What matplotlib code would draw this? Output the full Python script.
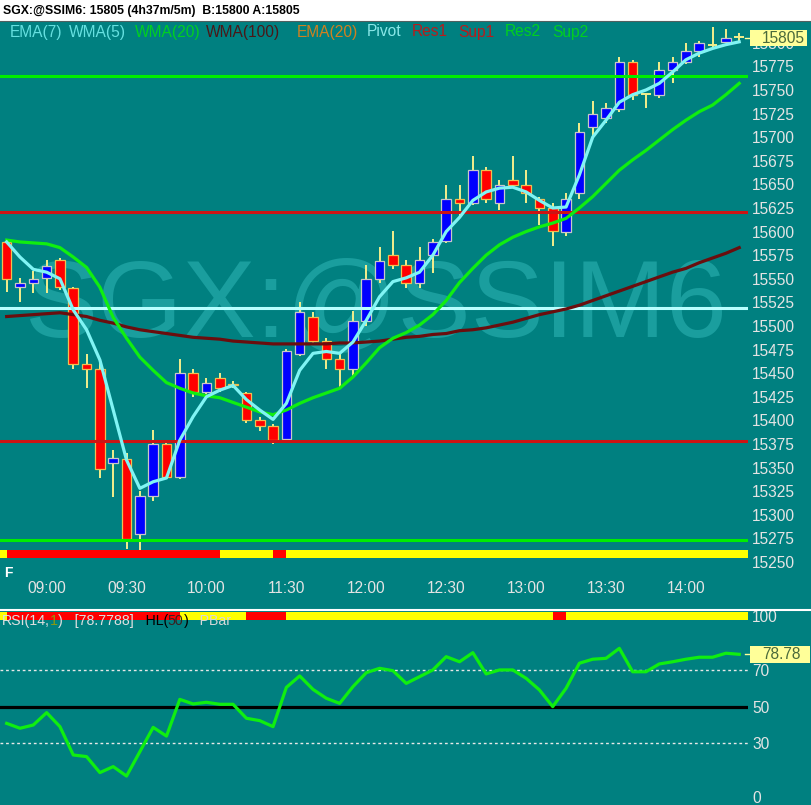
import numpy as np
import matplotlib.pyplot as plt
from matplotlib.patches import Rectangle
from matplotlib.lines import Line2D
from matplotlib.transforms import offset_copy

plt.rcParams['font.family'] = ['Liberation Sans', 'DejaVu Sans']

TEAL = '#008080'
W, H = 812, 805

# 5 minute bars, SGX:@SSIM6
opens = [15589, 15541, 15545, 15551, 15570, 15540, 15460, 15454, 15355, 15359,
         15280, 15320, 15375, 15340, 15450, 15430, 15445, 15439, 15429, 15400,
         15394, 15380, 15470, 15510, 15484, 15465, 15454, 15505, 15550, 15575,
         15565, 15545, 15575, 15590, 15635, 15630, 15665, 15630, 15655, 15649,
         15634, 15625, 15600, 15641, 15711, 15720, 15730, 15780, 15746, 15745,
         15771, 15780, 15791, 15798, 15801, 15806]
highs = [15592, 15551, 15558, 15570, 15572, 15541, 15470, 15465, 15369, 15365,
         15325, 15390, 15379, 15465, 15454, 15445, 15450, 15442, 15430, 15404,
         15396, 15476, 15525, 15515, 15487, 15471, 15516, 15565, 15584, 15601,
         15570, 15584, 15592, 15649, 15649, 15680, 15668, 15655, 15680, 15665,
         15637, 15630, 15641, 15715, 15738, 15736, 15785, 15782, 15747, 15780,
         15785, 15800, 15802, 15817, 15815, 15810]
lows = [15536, 15525, 15535, 15535, 15538, 15454, 15434, 15339, 15319, 15264,
        15259, 15315, 15338, 15338, 15425, 15427, 15430, 15434, 15397, 15389,
        15375, 15378, 15468, 15482, 15454, 15434, 15445, 15500, 15545, 15560,
        15540, 15540, 15556, 15588, 15616, 15628, 15630, 15623, 15647, 15630,
        15607, 15585, 15595, 15635, 15701, 15715, 15727, 15739, 15731, 15742,
        15757, 15778, 15785, 15793, 15800, 15802]
closes = [15550, 15545, 15550, 15564, 15541, 15460, 15454, 15349, 15360, 15274,
          15320, 15375, 15340, 15450, 15430, 15440, 15434, 15438, 15400, 15394,
          15379, 15473, 15515, 15484, 15465, 15454, 15505, 15550, 15569, 15565,
          15545, 15570, 15589, 15635, 15630, 15665, 15635, 15649, 15649, 15641,
          15625, 15601, 15634, 15705, 15725, 15731, 15780, 15745, 15746, 15771,
          15780, 15791, 15800, 15798, 15805, 15806]

ema7 = [15589, 15573, 15560, 15557, 15550, 15517, 15496, 15464, 15411, 15358,
        15328, 15335, 15339, 15379, 15404, 15425, 15432, 15437, 15422, 15411,
        15401, 15418, 15453, 15471, 15473, 15471, 15483, 15506, 15531, 15547,
        15551, 15557, 15575, 15600, 15615, 15633, 15642, 15646, 15647, 15642,
        15633, 15625, 15626, 15660, 15700, 15718, 15737, 15745, 15750, 15757,
        15769, 15782, 15789, 15794, 15798, 15801]
wma20 = [15591, 15589, 15588, 15587, 15583, 15573, 15562, 15541, 15509, 15487,
         15467, 15453, 15440, 15434, 15429, 15426, 15424, 15419, 15414, 15409,
         15406, 15411, 15418, 15424, 15429, 15434, 15446, 15461, 15477, 15487,
         15493, 15501, 15512, 15527, 15546, 15561, 15575, 15586, 15594, 15600,
         15605, 15609, 15614, 15625, 15637, 15651, 15665, 15676, 15686, 15697,
         15708, 15718, 15727, 15734, 15745, 15757]
wma100 = [15510, 15511, 15512, 15513, 15514, 15512, 15510, 15506, 15503, 15499,
          15496, 15494, 15492, 15490, 15488, 15487, 15486, 15484, 15483, 15482,
          15481, 15481, 15481, 15481, 15481, 15482, 15482, 15483, 15484, 15486,
          15488, 15489, 15491, 15492, 15495, 15496, 15498, 15501, 15504, 15508,
          15512, 15515, 15518, 15522, 15527, 15532, 15537, 15542, 15547, 15552,
          15557, 15561, 15567, 15572, 15577, 15583]

res2, res1, pivot, sup1, sup2 = 15765, 15621, 15519, 15378, 15273

rsi = [40.8, 38.1, 39.9, 46.7, 39.0, 23.4, 22.5, 13.7, 17.0, 11.8,
       25.2, 38.6, 33.8, 54.0, 51.5, 52.4, 51.3, 51.3, 43.6, 42.3,
       39.0, 60.6, 66.9, 59.5, 54.6, 51.8, 61.0, 68.7, 71.1, 69.8,
       62.8, 66.5, 70.2, 77.5, 74.7, 79.7, 68.0, 70.2, 70.2, 65.6,
       59.2, 50.0, 60.1, 73.9, 76.1, 76.6, 82.1, 69.2, 69.2, 73.5,
       74.7, 76.1, 77.2, 77.2, 79.4, 78.8]

# paint bar strips (Y = yellow, R = red)
price_strip = list('Y' + 'R' * 16 + 'Y' * 4 + 'R' + 'Y' * 34)
rsi_strip = list('Y' + 'R' * 13 + 'Y' * 5 + 'R' * 3 + 'Y' * 20 + 'R' + 'Y' * 13)

price_ticks = list(range(15250, 15801, 25))
time_bars = [3, 9, 15, 21, 27, 33, 39, 45, 51]
time_labels = ['09:00', '09:30', '10:00', '11:30', '12:00', '12:30', '13:00', '13:30', '14:00']
rsi_ticks = [0, 30, 50, 70, 100]
last_price = 15805
last_rsi = 78.78

x = np.arange(len(closes))
xmin, xmax = -0.5, 55.66
strip_col = {'Y': '#ffff00', 'R': '#ff0000'}
label_col = '#e4e4e4'

fig = plt.figure(figsize=(W / 100, H / 100), dpi=100, facecolor=TEAL)

# header
fig.patches.append(Rectangle((0, 1 - 21 / H), 1, 21 / H, transform=fig.transFigure,
                             facecolor='white', edgecolor='none'))
fig.add_artist(Line2D([0, 1], [1 - 21.5 / H] * 2, color='#506060', lw=0.8))
fig.text(3 / W, 1 - 11 / H, 'SGX:@SSIM6: 15805 (4h37m/5m)  B:15800 A:15805',
         fontsize=8.8, weight='bold', color='black', va='center')

# ---- price panel
ax = fig.add_axes([0, (H - 570) / H, 748 / W, 548 / H], facecolor=TEAL)
ax.set_xlim(xmin, xmax)
ax.set_ylim(15241.5, 15822.0)
for s in ax.spines.values():
    s.set_visible(False)

ax.text(27.7, 15488, 'SGX:@SSIM6', fontsize=79, color='#1a9e9e',
        ha='center', va='baseline', zorder=0)

wick = '#f4ee8c'
ax.vlines(x, lows, highs, color=wick, lw=1.4, zorder=2)
for i in range(len(x)):
    o, c = opens[i], closes[i]
    if o == c:
        ax.hlines(c, i - 0.36, i + 0.36, color=wick, lw=1.4, zorder=3)
        continue
    up = c > o
    ax.bar(i, abs(c - o), bottom=min(o, c), width=0.72,
           color='#0000ff' if up else '#ff0000',
           edgecolor='#c8c8c8' if up else '#f0c050', linewidth=0.9, zorder=3)

ax.axhline(res2, color='#00ee00', lw=2.2, zorder=4)
ax.axhline(res1, color='#cc1414', lw=2.2, zorder=4)
ax.axhline(pivot, color='#b8ffff', lw=2.2, zorder=4)
ax.axhline(sup1, color='#cc1414', lw=2.2, zorder=4)
ax.axhline(sup2, color='#00ee00', lw=2.2, zorder=4)

ax.plot(x, wma100, color='#6a0e0e', lw=2.3, zorder=5)
ax.plot(x, wma20, color='#10ee10', lw=2.3, zorder=5)
ax.plot(x, ema7, color='#80f4f4', lw=2.3, zorder=6)

for i, c in enumerate(price_strip):
    x0 = max(i - 1, xmin)
    x1 = xmax if i == len(price_strip) - 1 else i
    ax.broken_barh([(x0, x1 - x0)], (15254.2, 8.5), facecolors=strip_col[c], zorder=7)

ax.yaxis.tick_right()
ax.set_yticks(price_ticks)
ax.tick_params(axis='y', length=0, pad=3, labelsize=11.2, labelcolor=label_col)
ax.set_xticks(time_bars, time_labels)
ax.tick_params(axis='x', length=0, pad=8, labelsize=11.2, labelcolor=label_col)

# last price marker (covers the 15800 label, as on the chart)
yt = ax.get_yaxis_transform()
ax.add_patch(Rectangle((1.0027, last_price - 8.5), 0.0762, 17, transform=yt,
                       facecolor='#ffff99', edgecolor='none', clip_on=False, zorder=8))
ax.add_line(Line2D([0.996, 1.0027], [last_price] * 2, transform=yt, color='#ffff99',
                   lw=1, clip_on=False))
ax.text(1.0187, last_price, f'{last_price}', transform=yt, fontsize=11.2,
        color='#4a6a3a', va='center', ha='left', zorder=9, clip_on=False)

fig.text(4 / W, 1 - 573 / H, 'F', fontsize=10, weight='bold', color='white', va='center')

legend = [('EMA(7)', 10, '#66e0e0'), ('WMA(5)', 69, '#66e0e0'), ('WMA(20)', 135, '#00d020'),
          ('WMA(100)', 206, '#4a1818'), ('EMA(20)', 297, '#d08020'), ('Pivot', 367, '#8ae8e8'),
          ('Res1', 412, '#b81c1c'), ('Sup1', 458, '#b81c1c'), ('Res2', 505, '#00d020'),
          ('Sup2', 552, '#00d020')]
for txt, px, col in legend:
    fig.text(px / W, 1 - 32 / H, txt, fontsize=11.2, color=col, va='center')

# separator
fig.add_artist(Line2D([0, 1], [1 - 610 / H] * 2, color='white', lw=1.5))

# ---- RSI panel
rax = fig.add_axes([0, 0, 748 / W, 194 / H], facecolor=TEAL)
rax.set_xlim(xmin, xmax)
rax.set_ylim(-4.13, 102.64)
for s in rax.spines.values():
    s.set_visible(False)

rax.axhline(70, color='#e8e8e8', lw=1, ls=(0, (2, 2)))
rax.axhline(30, color='#e8e8e8', lw=1, ls=(0, (2, 2)))
rax.axhline(50, color='black', lw=2.3)
rax.plot(x, rsi, color='#10ee10', lw=2.3)

for i, c in enumerate(rsi_strip):
    x0 = max(i - 1, xmin)
    x1 = xmax if i == len(rsi_strip) - 1 else i
    rax.broken_barh([(x0, x1 - x0)], (97.7, 4.4), facecolors=strip_col[c], zorder=3)

rax.set_xticks([])
rax.yaxis.tick_right()
rax.set_yticks(rsi_ticks)
rax.tick_params(axis='y', length=0, pad=3, labelsize=11.2, labelcolor=label_col)

ryt = rax.get_yaxis_transform()
rax.add_patch(Rectangle((1.0027, last_rsi - 4.6), 0.0802, 9.2, transform=ryt,
                        facecolor='#ffff99', edgecolor='none', clip_on=False, zorder=8))
rax.add_line(Line2D([0.996, 1.0027], [last_rsi] * 2, transform=ryt, color='#ffff99',
                    lw=1, clip_on=False))
rax.text(1.0187, last_rsi, f'{last_rsi:.2f}', transform=ryt, fontsize=11.2,
         color='#4a6a3a', va='center', ha='left', zorder=9, clip_on=False)

# RSI title, pieces placed one after another
rsi_legend = [('RSI(14,', '#e0e0e0'), ('1', '#8a9a10'), (')', '#e0e0e0'),
              ('   [78.7788]', '#e0e0e0'), ('   HL(', 'black'), ('50', '#3a2020'),
              (')', 'black'), ('   PBar', '#d8d8d8')]
renderer = fig.canvas.get_renderer()
tr = fig.transFigure
for txt, col in rsi_legend:
    t = fig.text(2 / W, 1 - 621 / H, txt, fontsize=10.2, color=col, va='center',
                 zorder=10, transform=tr)
    ext = t.get_window_extent(renderer=renderer)
    tr = offset_copy(t.get_transform(), fig=fig, x=ext.width, units='dots')

fig.savefig('out.png', dpi=100, facecolor=TEAL)
